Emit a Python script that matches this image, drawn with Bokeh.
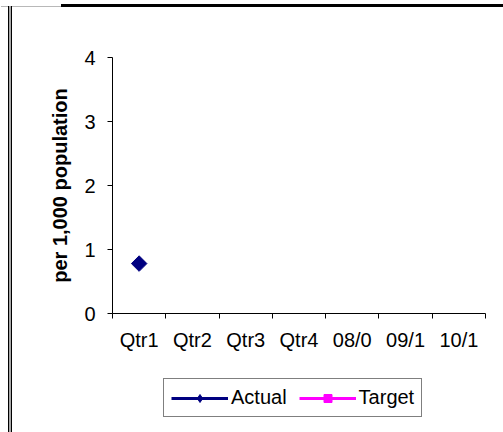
import math
from bokeh.plotting import figure
from bokeh.layouts import column
from bokeh.models import (Range1d, FixedTicker, Legend, LegendItem, ColumnDataSource,
                          InlineStyleSheet)
from bokeh.embed import file_html
from bokeh.resources import INLINE

nan = float("nan")
categories = ["Qtr1", "Qtr2", "Qtr3", "Qtr4", "08/0", "09/1", "10/1"]
actual = [0.78, nan, nan, nan, nan, nan, nan]
target = [nan, nan, nan, nan, nan, nan, nan]
y_ticks = [0, 1, 2, 3, 4]

xpos = [i + 0.5 for i in range(len(categories))]

FONT = "Liberation Sans"
FS = "20px"
NAVY = "#000080"
MAGENTA = "#FF00FF"

# ---------------- main chart ----------------
chart = figure(width=503, height=370, output_backend="svg", toolbar_location=None,
               x_range=Range1d(0, len(categories)), y_range=Range1d(0, 4),
               min_border_left=112, min_border_right=18, min_border_top=57,
               min_border_bottom=57)
chart.outline_line_color = None
chart.grid.visible = False
chart.background_fill_color = "white"
chart.border_fill_color = "white"

# x axis: labels at category centres, ticks between categories
chart.xaxis.ticker = FixedTicker(ticks=xpos, minor_ticks=list(range(len(categories) + 1)))
chart.xaxis.major_label_overrides = {x: c for x, c in zip(xpos, categories)}
chart.xaxis.major_tick_out = 0
chart.xaxis.major_tick_in = 0
chart.xaxis.minor_tick_out = 5
chart.xaxis.minor_tick_in = 0
chart.xaxis.minor_tick_line_color = "black"
chart.xaxis.major_label_standoff = 10
chart.xaxis.major_label_text_font = FONT
chart.xaxis.major_label_text_font_size = FS
chart.xaxis.major_label_text_color = "black"
chart.xaxis.axis_line_color = "black"

chart.yaxis.ticker = FixedTicker(ticks=y_ticks, minor_ticks=[])
chart.yaxis.major_tick_out = 5
chart.yaxis.major_tick_in = 0
chart.yaxis.major_tick_line_color = "black"
chart.yaxis.major_label_standoff = 12
chart.yaxis.major_label_text_font = FONT
chart.yaxis.major_label_text_font_size = FS
chart.yaxis.major_label_text_color = "black"
chart.yaxis.axis_line_color = "black"
chart.yaxis.axis_label = "per 1,000 population"
chart.yaxis.axis_label_text_font = FONT
chart.yaxis.axis_label_text_font_style = "bold"
chart.yaxis.axis_label_text_font_size = FS
chart.yaxis.axis_label_text_color = "black"
chart.yaxis.axis_label_standoff = 10

src_a = ColumnDataSource(dict(x=xpos, y=actual))
src_t = ColumnDataSource(dict(x=xpos, y=target))

chart.line("x", "y", source=src_a, line_color=NAVY, line_width=3)
chart.scatter("x", "y", source=src_a, marker="square", angle=math.pi / 4, size=11,
              fill_color=NAVY, line_color=NAVY)
chart.line("x", "y", source=src_t, line_color=MAGENTA, line_width=3)
chart.scatter("x", "y", source=src_t, marker="square", size=11,
              fill_color=MAGENTA, line_color=MAGENTA)

# ---------------- legend strip (same series, nothing in view) ----------------
strip = figure(width=503, height=62, output_backend="svg", toolbar_location=None,
               x_range=Range1d(100, 101), y_range=Range1d(100, 101),
               x_axis_type=None, y_axis_type=None,
               min_border_left=0, min_border_right=0, min_border_top=0,
               min_border_bottom=0)
strip.outline_line_color = None
strip.grid.visible = False
strip.background_fill_color = "white"
strip.border_fill_color = "white"

la = strip.line("x", "y", source=src_a, line_color=NAVY, line_width=3)
sa = strip.scatter("x", "y", source=src_a, marker="diamond", size=13,
                   fill_color=NAVY, line_color=NAVY)
lt = strip.line("x", "y", source=src_t, line_color=MAGENTA, line_width=3)
st = strip.scatter("x", "y", source=src_t, marker="square", size=11,
                   fill_color=MAGENTA, line_color=MAGENTA)

legend = Legend(items=[LegendItem(label="Actual", renderers=[la, sa]),
                       LegendItem(label="Target", renderers=[lt, st])],
                location=(51, 15), orientation="horizontal",
                glyph_width=57, glyph_height=20, label_standoff=3, spacing=12,
                padding=7, margin=0,
                label_text_font=FONT, label_text_font_size=FS,
                label_text_color="black",
                border_line_color="black", border_line_width=1,
                background_fill_color="white", background_fill_alpha=1)
strip.add_layout(legend, "center")

page = column(chart, strip, spacing=0)

# decorative frame lines of the original picture
page.stylesheets = [InlineStyleSheet(css="""
:host::before {
  content: ""; position: absolute; left: 61px; top: 4px; width: 442px; height: 3px;
  background: black; z-index: 10; pointer-events: none;
  box-shadow: -61px 1px 0 -1px #b8b8b8;
}
:host::after {
  content: ""; position: absolute; left: 8px; top: 6px; width: 2px; height: 426px;
  border-left: 1px solid black; border-right: 1px solid black;
  background: #a8a8a8; z-index: 10; pointer-events: none;
}
""")]

open("out.html", "w").write(file_html(page, INLINE))
